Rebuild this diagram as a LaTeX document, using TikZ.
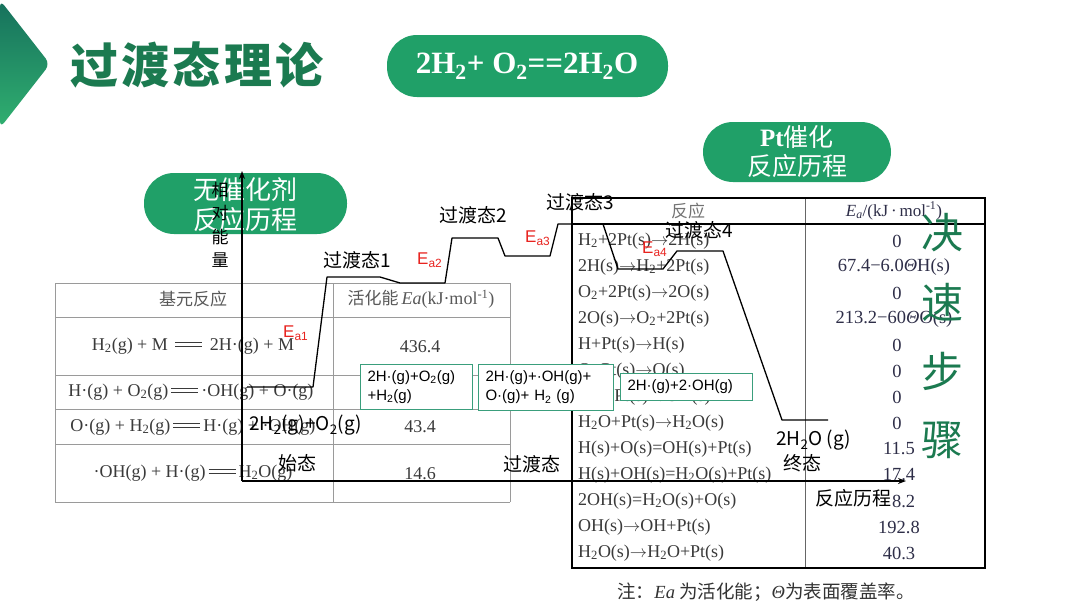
\documentclass[tikz,border=0pt]{standalone}
\usepackage{fontspec}
\setmainfont{Liberation Serif}
\newfontfamily\cjk{Noto Sans CJK SC}
\newfontfamily\lsans{Liberation Sans}
\usetikzlibrary{arrows.meta}
\definecolor{pillgreen}{HTML}{20A068}
\definecolor{titlegreen}{HTML}{1B7A50}
\definecolor{boxgreen}{HTML}{3A9E7C}
\definecolor{eared}{HTML}{E8231F}
\definecolor{tblgray}{HTML}{9A9A9A}
\definecolor{tbltext}{HTML}{3A3A3A}
\definecolor{valtext}{HTML}{2E2E48}
\definecolor{tritop}{HTML}{16705C}
\definecolor{tribot}{HTML}{30B070}
\newcommand{\sbs}[1]{\textsubscript{#1}}
\newcommand{\sps}[1]{\textsuperscript{#1}}
\newcommand{\rar}{$\rightarrow$}
\newcommand{\dbleq}{\mbox{\,\rlap{\raisebox{0.2em}{\rule{1.5em}{0.06em}}}\raisebox{0.42em}{\rule{1.5em}{0.06em}}\,}}
\begin{document}
\begin{tikzpicture}[x=1pt,y=-1pt,
  lbl/.style={inner sep=0pt, font=\cjk\fontsize{19}{22}\selectfont},
  ealbl/.style={inner sep=0pt, anchor=west, text=eared, font=\lsans\fontsize{17}{20}\selectfont},
  ltxt/.style={inner sep=0pt, text=tbltext, font=\fontsize{18}{20}\selectfont},
  rtxt/.style={inner sep=0pt, anchor=west, text=tbltext, font=\fontsize{18}{20}\selectfont},
  rval/.style={inner sep=0pt, text=valtext, font=\fontsize{18.5}{20}\selectfont},
  gbox/.style={draw=boxgreen, line width=1.1pt, fill=white, anchor=north west, align=left, inner xsep=7pt, inner ysep=0pt, font=\lsans\fontsize{15}{19}\selectfont},
  pillbox/.style={fill=pillgreen, rounded corners=30pt},
  pilltxt/.style={inner sep=0pt, text=white},
  tline/.style={draw=tblgray, line width=0.8pt},
  rline/.style={draw=black, line width=2pt},
  curve/.style={line width=1.3pt, line join=round},
  axis/.style={line width=1.3pt, -{Stealth[length=8pt,width=6pt]}},
  bigch/.style={inner sep=0pt, text=titlegreen, font=\cjk\fontsize{42}{42}\selectfont},
  axch/.style={inner sep=0pt, font=\cjk\fontsize{17}{17}\selectfont}
]
\useasboundingbox (0,0) rectangle (1080,608);
\fill[white] (0,0) rectangle (1080,608);

% header
\shade[top color=tritop, bottom color=tribot, rounded corners=7pt] (0,0) -- (50,64) -- (0,128) -- cycle;
\node[inner sep=0pt, text=titlegreen, font=\cjk\bfseries\fontsize{48}{50}\selectfont\addfontfeature{LetterSpace=7}] (title) at (197,65) {过渡态理论};
\fill[pillbox] (387,35) rectangle (668,97);
\node[pilltxt, font=\bfseries\fontsize{31}{34}\selectfont] (eq) at (527,66) {2H\sbs{2}+ O\sbs{2}==2H\sbs{2}O};

% left table
\foreach \yy in {283,317,375,409,444,502} \draw[tline] (55,\yy) -- (510,\yy);
\foreach \xx in {55,333,510} \draw[tline] (\xx,283) -- (\xx,502);
\node[ltxt, text=black!65, font=\cjk\fontsize{17}{20}\selectfont] (lh1) at (193,299) {基元反应};
\node[ltxt, text=black!65] (lh2) at (421,299) {{\cjk\fontsize{17}{20}\selectfont 活化能}\,\textit{Ea}(kJ·mol\sps{-1})};
\node[ltxt] (lr1) at (193,346) {H\sbs{2}(g) + M \dbleq\ 2H·(g) + M};
\node[ltxt] (lr2) at (191,392) {H·(g) + O\sbs{2}(g)\dbleq·OH(g) + O·(g)};
\node[ltxt] (lr3) at (193,427) {O·(g) + H\sbs{2}(g)\dbleq H·(g) + ·OH(g)};
\node[ltxt] (lr4) at (193,473) {·OH(g) + H·(g)\dbleq H\sbs{2}O(g)};
\node[ltxt] (lv1) at (420,347) {436.4};
\node[ltxt] (lv3) at (420,427) {43.4};
\node[ltxt] (lv4) at (420,474) {14.6};

% right table
\draw[draw=black!60, line width=1pt] (805,198) -- (805,568);
\draw[rline] (572,198) rectangle (985,568);
\draw[rline] (572,224) -- (985,224);
\node[inner sep=0pt, text=black!55, font=\cjk\fontsize{17}{20}\selectfont] (rh1) at (688,211) {反应};
\node[rval, font=\fontsize{17}{19}\selectfont] (rh2) at (894,211) {\textit{E}\sbs{\textit{a}}/(kJ\,·\,mol\sps{-1})};
\node[rtxt] (r1) at (578,241) {H\sbs{2}+2Pt(s)\rar2H(s)};
\node[rtxt] (r2) at (578,267) {2H(s)\rar H\sbs{2}+2Pt(s)};
\node[rtxt] (r3) at (578,293) {O\sbs{2}+2Pt(s)\rar2O(s)};
\node[rtxt] (r4) at (578,319) {2O(s)\rar O\sbs{2}+2Pt(s)};
\node[rtxt] (r5) at (578,345) {H+Pt(s)\rar H(s)};
\node[rtxt] (r6) at (578,371) {O+Pt(s)\rar O(s)};
\node[rtxt] (r7) at (578,397) {OH+Pt(s)\rar OH(s)};
\node[rtxt] (r8) at (578,423) {H\sbs{2}O+Pt(s)\rar H\sbs{2}O(s)};
\node[rtxt] (r9) at (578,449) {H(s)+O(s)=OH(s)+Pt(s)};
\node[rtxt] (r10) at (578,475) {H(s)+OH(s)=H\sbs{2}O(s)+Pt(s)};
\node[rtxt] (r11) at (578,501) {2OH(s)=H\sbs{2}O(s)+O(s)};
\node[rtxt] (r12) at (578,527) {OH(s)\rar OH+Pt(s)};
\node[rtxt] (r13) at (578,553) {H\sbs{2}O(s)\rar H\sbs{2}O+Pt(s)};
\node[rval] (v1) at (897,241) {0};
\node[rval] (v2) at (894,267) {67.4−6.0\textit{Θ}H(s)};
\node[rval] (v3) at (897,293) {0};
\node[rval] (v4) at (894,319) {213.2−60\textit{Θ}O(s)};
\node[rval] (v5) at (897,345) {0};
\node[rval] (v6) at (897,371) {0};
\node[rval] (v7) at (897,397) {0};
\node[rval] (v8) at (897,423) {0};
\node[rval] (v9) at (899,449) {11.5};
\node[rval] (v10) at (899,475) {17.4};
\node[rval] (v11) at (899,501) {48.2};
\node[rval] (v12) at (899,527) {192.8};
\node[rval] (v13) at (899,553) {40.3};

% pills
\fill[pillbox] (144,173) rectangle (347,234);
\node[pilltxt, font=\cjk\fontsize{26}{28}\selectfont] (np1) at (245,190) {无催化剂};
\node[pilltxt, font=\cjk\fontsize{26}{28}\selectfont] (np2) at (245,220) {反应历程};
\fill[pillbox] (703,122) rectangle (891,182);
\node[pilltxt, font=\fontsize{25}{28}\selectfont] (pp1) at (797,137) {{\bfseries Pt}{\cjk 催化}};
\node[pilltxt, font=\cjk\fontsize{25}{28}\selectfont] (pp2) at (797,166) {反应历程};

% energy curve
\draw[curve] (247,387) -- (313,387) -- (327,277) -- (380,277) -- (400,283) -- (445,283)
  -- (452,238) -- (498,238) -- (505,256) -- (550,256) -- (558,224) -- (603,224)
  -- (618,269) -- (663,269) -- (677,251) -- (723,251) -- (782,420) -- (828,420);

% axes
\coordinate (O) at (242,481);
\coordinate (ytop) at (242,171);
\coordinate (xend) at (906,481);
\draw[axis] (O) -- (ytop);
\draw[axis] (O) -- (xend);
\node[axch] (ax1) at (220,190) {相};
\node[axch] (ax2) at (220,213) {对};
\node[axch] (ax3) at (220,237) {能};
\node[axch] (ax4) at (220,260) {量};

% boxes
\node[gbox, text width=98pt, minimum width=112pt, minimum height=45pt] (b1) at (360,364) {2H·(g)+O\sbs{2}(g)\\+H\sbs{2}(g)};
\node[gbox, text width=121pt, minimum width=135pt, minimum height=46pt] (b2) at (478,364) {2H·(g)+·OH(g)+\\O·(g)+ H\sbs{2} (g)};
\node[gbox, text width=118pt, minimum width=132pt, minimum height=27pt] (b3) at (620,373) {2H·(g)+2·OH(g)};

% labels
\node[lbl] (ts1) at (357,260) {过渡态1};
\node[lbl] (ts2) at (473,215) {过渡态2};
\node[lbl] (ts3) at (580,202) {过渡态3};
\node[lbl] (ts4) at (699,230) {过渡态4};
\node[ealbl] (ea1) at (283,333) {E\sbs{a1}};
\node[ealbl] (ea2) at (417,260) {E\sbs{a2}};
\node[ealbl] (ea3) at (525,238) {E\sbs{a3}};
\node[ealbl] (ea4) at (642,249) {E\sbs{a4}};
\node[lbl, anchor=west] (start) at (249,425) {2H\sbs{2}(g)+O\sbs{2}(g)};
\node[lbl] (startl) at (297,463) {始态};
\node[lbl] (tsl) at (532,464) {过渡态};
\node[lbl, anchor=west] (fin) at (776,440) {2H\sbs{2}O (g)};
\node[lbl] (finl) at (802,463) {终态};
\node[lbl, fill=white, inner sep=1pt] (xl) at (853,498) {反应历程};

% rate-determining step
\node[bigch] (k1) at (942,233) {决};
\node[bigch] (k2) at (942,302) {速};
\node[bigch] (k3) at (942,371) {步};
\node[bigch] (k4) at (942,440) {骤};

% footnote
\node[inner sep=0pt, text=black!80, font=\cjk\fontsize{18.5}{20}\selectfont] (note) at (766,592) {注：{\rmfamily\itshape Ea} 为活化能；{\rmfamily\itshape Θ}为表面覆盖率。};
\end{tikzpicture}
\end{document}
